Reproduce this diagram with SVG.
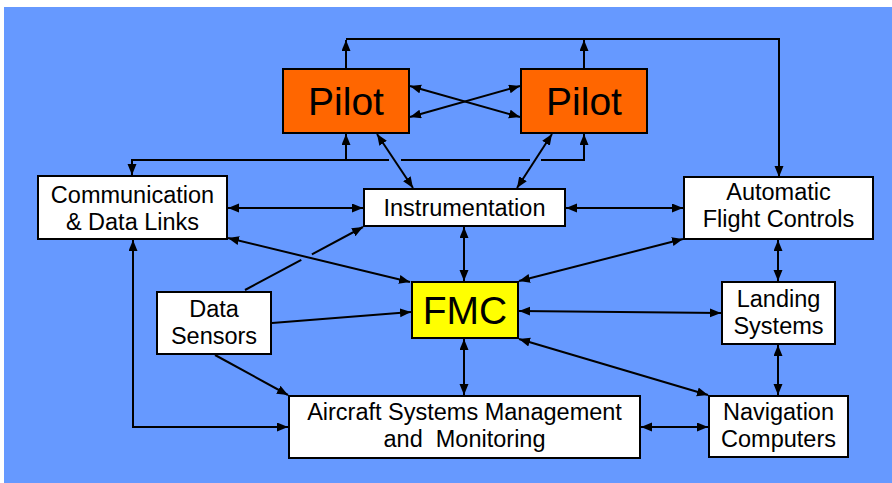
<svg xmlns="http://www.w3.org/2000/svg" width="892" height="483" viewBox="0 0 892 483">
<defs>
<marker id="ah" markerUnits="userSpaceOnUse" markerWidth="12" markerHeight="10" refX="11" refY="4.5" orient="auto-start-reverse">
<path d="M0,0 L11,4.5 L0,9 z" fill="#000"/>
</marker>
<style>
.box{fill:#fff;stroke:#000;stroke-width:2}
.pilot{fill:#FF6600;stroke:#000;stroke-width:2}
.fmc{fill:#FFFF00;stroke:#000;stroke-width:2}
.shadow{fill:#333}
text{font-family:"Liberation Sans",Arial,sans-serif;fill:#000;text-anchor:middle}
.t{font-size:23.5px}
.big{font-size:39px}
.c{fill:none;stroke:#000;stroke-width:2}
.b{marker-start:url(#ah);marker-end:url(#ah)}
.e{marker-end:url(#ah)}
</style>
</defs>
<rect x="0" y="0" width="892" height="483" fill="#fff"/>
<rect x="4" y="7" width="888" height="476" fill="#6699FF"/>

<g id="connectors">
<!-- Pilots to Automatic Flight Controls via top line -->
<path class="c e" d="M346,69 V40"/>
<path class="c e" d="M584,69 V40"/>
<path class="c e" d="M346,39 H779 V177"/>
<!-- Pilot cross links -->
<line class="c b" x1="410" y1="86" x2="520" y2="117"/>
<line class="c b" x1="410" y1="117" x2="520" y2="86"/>
<!-- Bottom line from Comm to Pilots -->
<path class="c e" d="M389,160 H132 V175"/>
<line class="c" x1="401" y1="160" x2="530" y2="160"/>
<path class="c e" d="M541,160 H584 V134"/>
<line class="c e" x1="346" y1="160" x2="346" y2="134"/>
<!-- Pilots to Instrumentation -->
<line class="c b" x1="377" y1="134" x2="413" y2="188"/>
<line class="c b" x1="552" y1="134" x2="517" y2="188"/>
<!-- Horizontal row -->
<line class="c b" x1="228" y1="208" x2="363" y2="208"/>
<line class="c b" x1="566" y1="208" x2="683" y2="208"/>
<!-- Instrumentation - FMC -->
<line class="c b" x1="464" y1="227" x2="464" y2="281"/>
<!-- Comm - FMC -->
<line class="c b" x1="228" y1="238" x2="410" y2="282"/>
<!-- AFC - FMC -->
<line class="c b" x1="683" y1="239" x2="519" y2="281"/>
<!-- AFC - Landing -->
<line class="c b" x1="778" y1="240" x2="778" y2="281"/>
<!-- Data Sensors - Instrumentation (with crossing gap) -->
<line class="c" x1="245" y1="290" x2="301.3" y2="259.9"/>
<line class="c e" x1="311.9" y1="254.3" x2="363" y2="227"/>
<!-- Data Sensors - FMC -->
<line class="c e" x1="272" y1="323" x2="411" y2="312"/>
<!-- FMC - Landing -->
<line class="c b" x1="519" y1="311" x2="721" y2="313"/>
<!-- FMC - Navigation -->
<line class="c b" x1="519" y1="339" x2="708" y2="395"/>
<!-- Landing - Navigation -->
<line class="c b" x1="778" y1="345" x2="778" y2="395"/>
<!-- FMC - Aircraft -->
<line class="c b" x1="464" y1="339" x2="464" y2="395"/>
<!-- Data Sensors - Aircraft -->
<line class="c e" x1="215" y1="355" x2="288" y2="395"/>
<!-- Comm - Aircraft -->
<path class="c b" d="M133,240 V427 H288"/>
<!-- Aircraft - Navigation -->
<line class="c b" x1="641" y1="427" x2="708" y2="427"/>
</g>

<g id="pilot1">
<rect class="pilot" x="283" y="69" width="126" height="64"/>
<text class="big" x="346" y="115">Pilot</text>
</g>
<g id="pilot2">
<rect class="pilot" x="521" y="69" width="126" height="64"/>
<text class="big" x="584" y="115">Pilot</text>
</g>
<g id="comm">
<rect class="box" x="38" y="176" width="189" height="63"/>
<text class="t" x="132.5" y="203">Communication</text>
<text class="t" x="132.5" y="230">&amp; Data Links</text>
</g>
<g id="instrumentation">
<rect class="box" x="364" y="189" width="201" height="37"/>
<text class="t" x="464.5" y="216">Instrumentation</text>
</g>
<g id="afc">
<rect class="box" x="684" y="177" width="189" height="62"/>
<text class="t" x="778.5" y="200">Automatic</text>
<text class="t" x="778.5" y="227">Flight Controls</text>
</g>
<g id="fmc">
<rect class="fmc" x="412" y="282" width="106" height="56"/>
<text class="big" x="465" y="324">FMC</text>
</g>
<g id="datasensors">
<rect class="box" x="157" y="292" width="114" height="62"/>
<text class="t" x="214" y="317">Data</text>
<text class="t" x="214" y="344">Sensors</text>
</g>
<g id="landing">
<rect class="box" x="722" y="282" width="113" height="62"/>
<text class="t" x="778.5" y="307">Landing</text>
<text class="t" x="778.5" y="334">Systems</text>
</g>
<g id="aircraft">
<rect class="box" x="289" y="396" width="351" height="62"/>
<text class="t" x="464.5" y="420">Aircraft Systems Management</text>
<text class="t" x="464.5" y="447" xml:space="preserve">and  Monitoring</text>
</g>
<g id="navigation">
<rect class="box" x="709" y="396" width="139" height="61"/>
<text class="t" x="778.5" y="420">Navigation</text>
<text class="t" x="778.5" y="447">Computers</text>
</g>
</svg>
